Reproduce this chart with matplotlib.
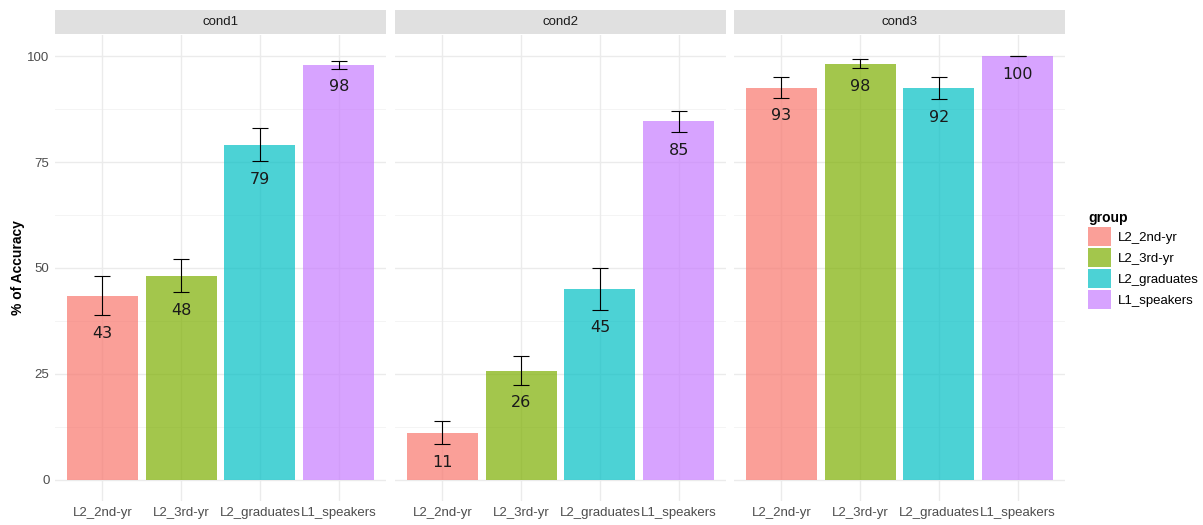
import matplotlib
matplotlib.use("Agg")
import matplotlib.pyplot as plt
from matplotlib.patches import Patch, Rectangle
import numpy as np

plt.rcParams["font.family"] = ["Liberation Sans", "DejaVu Sans"]

conditions = ["cond1", "cond2", "cond3"]
groups = ["L2_2nd-yr", "L2_3rd-yr", "L2_graduates", "L1_speakers"]
cond1_mean = [43.4, 48.2, 79.1, 98.0]
cond1_se = [4.6, 3.9, 3.85, 0.95]
cond2_mean = [11.1, 25.8, 45.0, 84.6]
cond2_se = [2.75, 3.4, 4.9, 2.5]
cond3_mean = [92.6, 98.2, 92.4, 100.0]
cond3_se = [2.4, 1.05, 2.6, 0.0]
y_ticks = [0, 25, 50, 75, 100]

means = [cond1_mean, cond2_mean, cond3_mean]
ses = [cond1_se, cond2_se, cond3_se]
colors = ["#F8766D", "#7CAE00", "#00BFC4", "#C77CFF"]

W, H = 1203, 525
fig = plt.figure(figsize=(W / 100, H / 100), dpi=100)
fig.patch.set_facecolor("white")

panel_lefts = [55, 395, 734]
panel_w = 331
panel_top, panel_bot = 35, 501
strip_top = 10

x = np.arange(1, len(groups) + 1)
for i, cond in enumerate(conditions):
    l = panel_lefts[i]
    ax = fig.add_axes([l / W, (H - panel_bot) / H, panel_w / W, (panel_bot - panel_top) / H])
    ax.set_xlim(0.4, 4.6)
    ax.set_ylim(-5, 105)
    ax.set_facecolor("white")
    for s in ax.spines.values():
        s.set_visible(False)
    # grid
    for yv in y_ticks:
        ax.axhline(yv, color="#EBEBEB", lw=1.0, zorder=0)
    for yv in [12.5, 37.5, 62.5, 87.5]:
        ax.axhline(yv, color="#F2F2F2", lw=0.6, zorder=0)
    for xv in x:
        ax.axvline(xv, color="#EBEBEB", lw=1.0, zorder=0)
    ax.bar(x, means[i], width=0.9, color=colors, alpha=0.7, zorder=2, linewidth=0)
    ax.errorbar(x, means[i], yerr=ses[i], fmt="none", ecolor="black", elinewidth=0.8,
                capsize=5.8, capthick=0.8, zorder=3)
    for xi, m, s in zip(x, means[i], ses[i]):
        ax.annotate(f"{round(m)}", (xi, m - s), xytext=(0, -13), textcoords="offset points",
                    ha="center", va="center", fontsize=11.5, color="#1A1A1A", zorder=4,
                    family=["DejaVu Sans"])
    ax.set_xticks(x)
    ax.set_xticklabels(groups, fontsize=9.5, color="#4D4D4D")
    ax.tick_params(axis="both", length=0, pad=4)
    ax.set_yticks(y_ticks)
    if i == 0:
        ax.set_yticklabels([str(v) for v in y_ticks], fontsize=9.5, color="#4D4D4D")
        ax.set_ylabel("% of Accuracy", fontsize=10, fontweight="bold", color="black")
        ax.yaxis.set_label_coords(-(55 - 25) / panel_w, 0.5)
    else:
        ax.set_yticklabels([])
    # strip
    sax = fig.add_axes([l / W, (H - panel_top + 1) / H, panel_w / W, (panel_top - 1 - strip_top) / H])
    sax.set_xlim(0, 1)
    sax.set_ylim(0, 1)
    sax.axis("off")
    sax.add_patch(Rectangle((0, 0), 1, 1, color="#E0E0E0", transform=sax.transAxes))
    sax.text(0.5, 0.5, cond, ha="center", va="center", fontsize=9.5, color="#1A1A1A")

handles = [Patch(facecolor=c, alpha=0.7, edgecolor="none") for c in colors]
leg = fig.legend(handles, groups, loc="upper left", bbox_to_anchor=(1084 / W, 1 - 207 / H),
                 frameon=False, title="group", fontsize=9.5, handlelength=1.75, handleheight=1.9,
                 labelspacing=0.12, handletextpad=0.5, borderaxespad=0, borderpad=0.3)
leg.get_title().set_fontweight("bold")
leg.get_title().set_fontsize(10)
leg._legend_box.align = "left"

fig.savefig("out.png", dpi=100)
